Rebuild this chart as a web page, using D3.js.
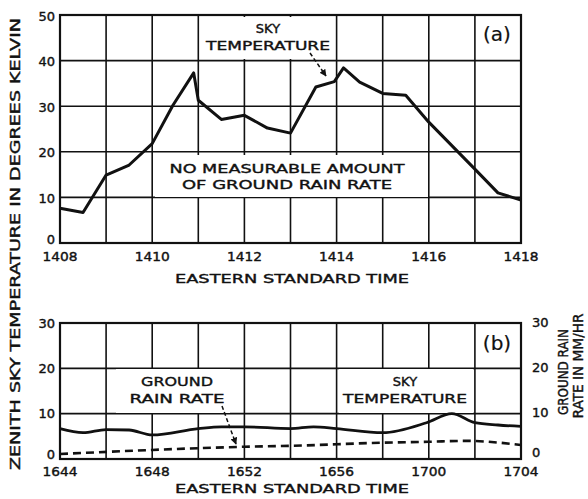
<!DOCTYPE html>
<html><head><meta charset="utf-8">
<script src="https://cdn.jsdelivr.net/npm/d3@7"></script>
<style>
html,body{margin:0;padding:0;background:#fff;}
text{font-family:"DejaVu Sans","Liberation Sans",sans-serif;fill:#111;stroke:#111;stroke-width:0.4;}
</style></head>
<body>
<svg id="c" width="588" height="499"></svg>
<script>
// Panel (a): minutes after 14:08, sky temperature (K)
const minutesA = [0, 0.5, 1, 1.5, 2, 2.45, 2.9, 3.0, 3.5, 4.0, 4.5, 5.0, 5.55, 5.95, 6.15, 6.5, 7.0, 7.5, 8.0, 9.0, 9.5, 10.0];
const skyTempA = [7.6, 6.7, 14.9, 17.1, 21.8, 30.2, 37.3, 31.3, 27.1, 28.0, 25.2, 24.1, 34.2, 35.4, 38.4, 35.3, 32.8, 32.4, 26.5, 16.2, 11.0, 9.4];
const tickLabelsA = ["1408", "1410", "1412", "1414", "1416", "1418"];
const yTicksA = [0, 10, 20, 30, 40, 50];

// Panel (b): minutes after 16:44
const minutesB = [0, 1, 2, 3, 4, 6, 7, 8, 10, 11, 12, 14, 15.9, 17, 18, 19, 20];
const skyTempB = [6.7, 5.8, 6.5, 6.4, 5.3, 6.7, 7.1, 7.1, 6.7, 7.1, 6.7, 5.8, 8.0, 10.0, 8.0, 7.5, 7.2];
const rainMinutesB = [0, 4, 8, 10, 14, 16, 17.6, 20];
const rainRateB = [1.1, 2.0, 2.7, 2.9, 3.6, 3.8, 4.0, 3.1];
const tickLabelsB = ["1644", "1648", "1652", "1656", "1700", "1704"];
const yTicksB = [0, 10, 20, 30];

const svg = d3.select("#c");
const defs = svg.append("defs");
defs.append("marker").attr("id","ah").attr("viewBox","0 0 10 10").attr("refX",9).attr("refY",5)
  .attr("markerWidth",7).attr("markerHeight",7).attr("orient","auto-start-reverse")
  .attr("markerUnits","userSpaceOnUse")
  .append("path").attr("d","M0,0 L10,5 L0,10 z").attr("fill","#111");

const L = 60, R = 521;
const xA = d3.scaleLinear().domain([0,10]).range([L,R]);
const yA = d3.scaleLinear().domain([0,50]).range([243,15]);
const xB = d3.scaleLinear().domain([0,20]).range([L,R]);
const yB = d3.scaleLinear().domain([0,30]).range([459,323]);

function grid(x, y, xs, ys) {
  const g = svg.append("g").attr("stroke","#111").attr("stroke-width",1.6);
  xs.forEach(v => g.append("line").attr("x1",x(v)).attr("x2",x(v)).attr("y1",y.range()[0]).attr("y2",y.range()[1]));
  ys.forEach(v => g.append("line").attr("y1",y(v)).attr("y2",y(v)).attr("x1",L).attr("x2",R));
}
function border(y) {
  svg.append("rect").attr("x",L).attr("y",y.range()[1]).attr("width",R-L).attr("height",y.range()[0]-y.range()[1])
    .attr("fill","none").attr("stroke","#111").attr("stroke-width",2.2);
}
function whiteBox(x0,y0,x1,y1){
  svg.append("rect").attr("x",x0).attr("y",y0).attr("width",x1-x0).attr("height",y1-y0).attr("fill","#fff");
}
function label(x,y,t,size,anchor,len){
  const e = svg.append("text").attr("x",x).attr("y",y).attr("font-size",size)
    .attr("text-anchor",anchor||"middle").attr("dominant-baseline","central").text(t);
  if(len) e.attr("textLength",len).attr("lengthAdjust","spacingAndGlyphs");
  return e;
}

// ---- Panel (a)
grid(xA, yA, d3.range(1,10), [10,20,30,40]);
whiteBox(155, 155, 428, 197);
whiteBox(200, 17, 335, 59);
border(yA);
svg.append("path").datum(minutesA.map((m,i)=>[m,skyTempA[i]]))
  .attr("d", d3.line().x(d=>xA(d[0])).y(d=>yA(d[1])))
  .attr("fill","none").attr("stroke","#111").attr("stroke-width",3).attr("stroke-linejoin","round");
yTicksA.forEach(v => label(55, yA(v) + (v===0 ? -4 : 1), String(v), 13, "end"));
tickLabelsA.forEach((t,i) => label(xA(i*2), 256, t, 12.5, "middle", 35));
label(292, 278, "EASTERN STANDARD TIME", 13, "middle", 234);
label(268, 28, "SKY", 13, "middle");
label(268, 45, "TEMPERATURE", 13, "middle", 124);
label(287, 168, "NO MEASURABLE AMOUNT", 13, "middle", 235);
label(287, 184, "OF GROUND RAIN RATE", 13, "middle", 210);
label(497, 34, "(a)", 20, "middle").style("stroke-width",0.2);
svg.append("line").attr("x1",310).attr("y1",53).attr("x2",326).attr("y2",76)
  .attr("stroke","#111").attr("stroke-width",1.5).attr("stroke-dasharray","4,2.5").attr("marker-end","url(#ah)");

// ---- Panel (b)
grid(xB, yB, d3.range(2,20,2), [10,20]);
whiteBox(116, 369, 230, 413);
whiteBox(339, 369, 473, 413);
border(yB);
svg.append("path").datum(minutesB.map((m,i)=>[m,skyTempB[i]]))
  .attr("d", d3.line().curve(d3.curveMonotoneX).x(d=>xB(d[0])).y(d=>yB(d[1])))
  .attr("fill","none").attr("stroke","#111").attr("stroke-width",2.8);
svg.append("path").datum(rainMinutesB.map((m,i)=>[m,rainRateB[i]]))
  .attr("d", d3.line().curve(d3.curveMonotoneX).x(d=>xB(d[0])).y(d=>yB(d[1])))
  .attr("fill","none").attr("stroke","#111").attr("stroke-width",2.6).attr("stroke-dasharray","8,5");
yTicksB.forEach(v => label(55, yB(v) + (v===0 ? -5 : 0), String(v), 13, "end"));
yTicksB.forEach(v => label(532, yB(v) + (v===0 ? -7 : -1), String(v), 13, "start"));
tickLabelsB.forEach((t,i) => label(xB(i*4), 471, t, 12.5, "middle", 35));
label(292, 488, "EASTERN STANDARD TIME", 13, "middle", 234);
label(177, 381, "GROUND", 13, "middle", 72);
label(177, 398, "RAIN RATE", 13, "middle", 95);
label(405, 381, "SKY", 13, "middle");
label(405, 398, "TEMPERATURE", 13, "middle", 124);
label(497, 343, "(b)", 20, "middle").style("stroke-width",0.2);
svg.append("line").attr("x1",222).attr("y1",406).attr("x2",236).attr("y2",444)
  .attr("stroke","#111").attr("stroke-width",1.5).attr("stroke-dasharray","4,2.5").attr("marker-end","url(#ah)");

// ---- Axis titles
label(0,0,"ZENITH SKY TEMPERATURE IN DEGREES KELVIN",14,"middle",452)
  .attr("transform","translate(15,244) rotate(-90)");
label(0,0,"GROUND RAIN",14,"middle",86).attr("transform","translate(563,372) rotate(-90)");
label(0,0,"RATE IN MM/HR",14,"middle",105).attr("transform","translate(578,366) rotate(-90)");
</script>
</body></html>
